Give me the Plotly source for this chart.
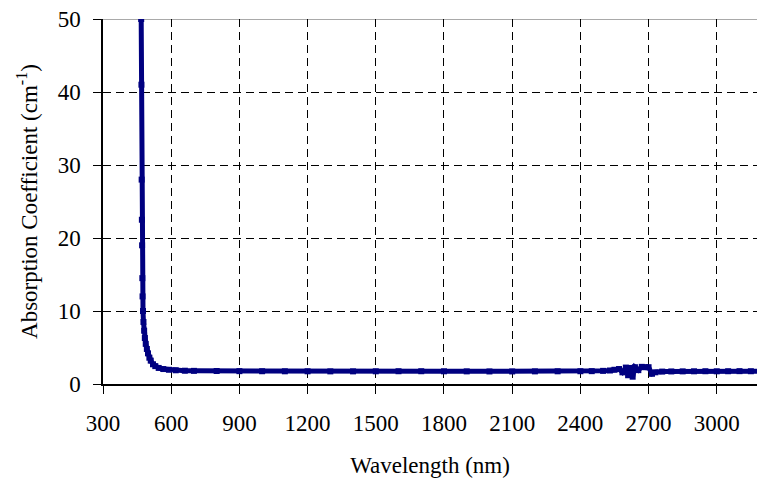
import plotly.graph_objects as go

wavelength = [468, 469, 470, 471, 472, 473, 474, 476, 478, 481, 484, 488, 493, 498, 504, 510, 520, 530, 545, 565, 590, 620, 660, 700, 800,
              900, 1000, 1100, 1200, 1300, 1400, 1500, 1600, 1700, 1800, 1900, 2000, 2100, 2200, 2300, 2400, 2450, 2500,
              2530, 2550, 2570, 2585, 2600, 2610, 2620, 2630, 2640, 2655, 2670, 2685, 2700, 2715, 2730, 2760, 2800,
              2850, 2900, 2950, 3000, 3050, 3100, 3150, 3200]
absorption = [50.0, 41.0, 28.0, 22.5, 19.0, 14.5, 12.0, 10.0, 8.5, 7.3, 6.3, 5.5, 4.8, 4.2, 3.6, 3.2, 2.7, 2.45, 2.2, 2.05, 1.95, 1.88, 1.82, 1.8, 1.78,
              1.76, 1.75, 1.74, 1.74, 1.73, 1.73, 1.74, 1.75, 1.75, 1.74, 1.73, 1.72, 1.72, 1.73, 1.74, 1.75, 1.76, 1.8,
              1.85, 1.95, 2.05, 1.6, 2.25, 1.2, 2.2, 1.0, 2.3, 1.9, 2.35, 2.3, 2.3, 1.4, 1.6, 1.7, 1.72,
              1.73, 1.74, 1.75, 1.74, 1.75, 1.76, 1.75, 1.75]

x_ticks = [300, 600, 900, 1200, 1500, 1800, 2100, 2400, 2700, 3000]
y_ticks = [0, 10, 20, 30, 40, 50]

font_family = "Liberation Serif"
fs = 23

fig = go.Figure()
fig.add_trace(go.Scatter(
    x=wavelength, y=absorption, mode="lines+markers",
    line=dict(color="#000080", width=5),
    marker=dict(symbol="square", size=6, color="#000080"),
    showlegend=False, cliponaxis=True,
))

fig.add_shape(type="line", xref="paper", yref="y", x0=0, x1=1, y0=50, y1=50,
              line=dict(color="#8c8c8c", width=1.5), layer="below")

fig.update_layout(
    width=757, height=483,
    margin=dict(l=103, r=0, t=19, b=99),
    paper_bgcolor="white", plot_bgcolor="white",
    font=dict(family=font_family, size=fs, color="black"),
    xaxis=dict(
        range=[300, 3177], tickvals=x_ticks, ticktext=[str(v) for v in x_ticks],
        showline=True, linecolor="black", linewidth=1.5,
        ticks="outside", ticklen=8, tickcolor="black", tickwidth=1,
        showgrid=True, gridcolor="black", gridwidth=1, griddash="8px,5px",
        zeroline=False, ticklabelstandoff=10,
        tickfont=dict(family=font_family, size=fs),
        title=dict(text="Wavelength (nm)", font=dict(family=font_family, size=fs), standoff=22),
    ),
    yaxis=dict(
        range=[0, 50], tickvals=y_ticks,
        showline=True, linecolor="black", linewidth=1.5,
        ticks="outside", ticklen=8, tickcolor="black", tickwidth=1,
        showgrid=True, gridcolor="black", gridwidth=1, griddash="8px,5px",
        zeroline=False, ticklabelstandoff=8,
        tickfont=dict(family=font_family, size=fs),
        title=dict(text="Absorption Coefficient (cm<sup>-1</sup>)", font=dict(family=font_family, size=fs), standoff=14),
    ),
)

fig.write_html("out.html")
